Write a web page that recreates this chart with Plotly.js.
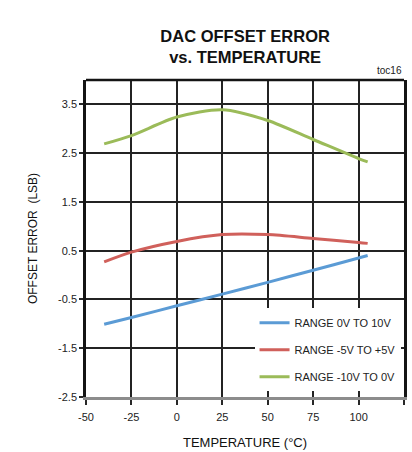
<!DOCTYPE html>
<html><head><meta charset="utf-8">
<script src="https://cdn.plot.ly/plotly-3.0.1.min.js"></script>
<style>html,body{margin:0;padding:0;background:#fff}#c{width:412px;height:452px}</style>
</head><body><div id="c"></div>
<script>
const temps = [-40, -25, 0, 25, 50, 75, 100, 105];
const range0to10 = [-1.01, -0.87, -0.63, -0.39, -0.15, 0.10, 0.35, 0.40];
const rangePm5 = [0.27, 0.47, 0.69, 0.83, 0.83, 0.75, 0.67, 0.65];
const rangeM10to0 = [2.69, 2.86, 3.24, 3.39, 3.17, 2.78, 2.39, 2.32];
const seriesNames = ['RANGE 0V TO 10V', 'RANGE -5V TO +5V', 'RANGE -10V TO 0V'];
const xTicks = [-50, -25, 0, 25, 50, 75, 100, 125];
const yTicks = [-2.5, -1.5, -0.5, 0.5, 1.5, 2.5, 3.5];

const colors = ['#5b9bd5', '#d0605b', '#9bbb59'];
const ys = [range0to10, rangePm5, rangeM10to0];
const traces = ys.map((y, i) => ({
  x: temps, y: y, name: seriesNames[i], type: 'scatter', mode: 'lines',
  line: {color: colors[i], width: 3, shape: 'spline', smoothing: 0.8},
  legendgroup: 'g' + i
}));

const font = 'Liberation Sans, Arial, sans-serif';
const layout = {
  width: 412, height: 452,
  margin: {l: 86, r: 8, t: 80, b: 55},
  paper_bgcolor: '#ffffff', plot_bgcolor: '#ffffff',
  font: {family: font, color: '#222222', size: 11},
  title: {text: '<b>DAC OFFSET ERROR<br>vs. TEMPERATURE</b>', x: 0.595, xanchor: 'center',
    yref: 'container', y: 0.907, yanchor: 'bottom',
    font: {family: 'Liberation Sans Narrow, Arial Narrow, Liberation Sans, sans-serif', size: 16.5, color: '#111111'}},
  xaxis: {range: [-50, 125], tickmode: 'array', tickvals: xTicks, ticktext: xTicks.map(String),
    showgrid: true, gridcolor: 'rgb(35,35,35)', gridwidth: 1.5, zeroline: false,
    showline: true, linecolor: 'rgb(140,140,140)', linewidth: 3,
    ticks: 'outside', ticklen: 5, tickcolor: 'rgb(40,40,40)', tickwidth: 1.5,
    ticklabelstandoff: 3,
    tickfont: {size: 11, color: '#222222'},
    title: {text: 'TEMPERATURE (°C)', font: {size: 13, color: '#111111'}, standoff: 16}},
  yaxis: {range: [-2.5, 4.0], tickmode: 'array', tickvals: yTicks, ticktext: yTicks.map(String),
    showgrid: true, gridcolor: 'rgb(35,35,35)', gridwidth: 1.5, zeroline: false,
    showline: true, linecolor: 'rgb(20,20,20)', linewidth: 2.5, mirror: true,
    ticks: 'outside', ticklen: 4, tickcolor: 'rgb(40,40,40)', tickwidth: 1.5,
    tickfont: {size: 11, color: '#222222'},
    title: {text: 'OFFSET ERROR  (LSB)', font: {size: 12, color: '#111111'}, standoff: 18}},
  legend: {x: 0.53, y: 0.28, xanchor: 'left', yanchor: 'top', bgcolor: '#ffffff',
    font: {size: 11, color: '#222222'}, tracegroupgap: 8},
  shapes: [{type: 'line', xref: 'paper', yref: 'paper', x0: 0, x1: 1, y0: 1, y1: 1,
    line: {color: 'rgb(20,20,20)', width: 2.5}}],
  annotations: [{text: 'toc16', xref: 'paper', yref: 'paper', x: 1.0, y: 1.0, xanchor: 'right', yanchor: 'bottom',
    showarrow: false, font: {size: 10, color: '#222222'}, yshift: 2}]
};
Plotly.newPlot('c', traces, layout, {displayModeBar: false});
</script></body></html>
